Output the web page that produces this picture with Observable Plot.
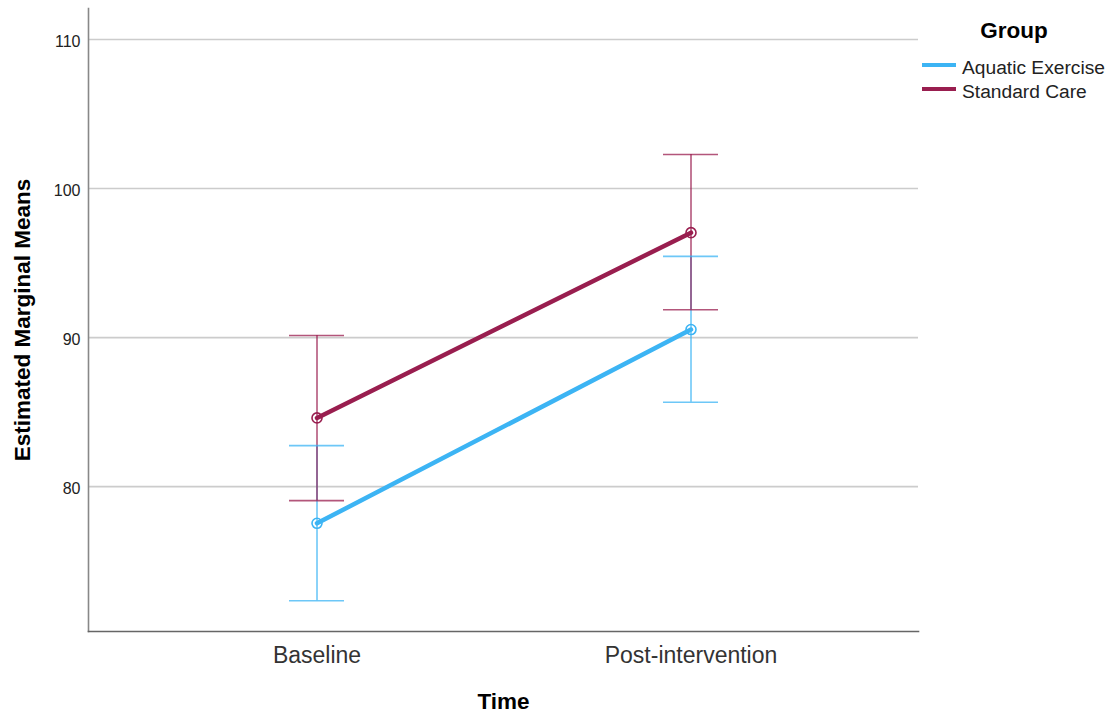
<!DOCTYPE html>
<html>
<head>
<meta charset="utf-8">
<script src="https://cdn.jsdelivr.net/npm/d3@7"></script>
<script src="https://cdn.jsdelivr.net/npm/@observablehq/plot@0.6"></script>
<style>
  body { margin: 0; background: #fff; font-family: "Liberation Sans", Arial, sans-serif; }
  #wrap { position: relative; width: 1112px; height: 715px; }
  #wrap > svg { position: absolute; left: 0; top: 0; }
</style>
</head>
<body>
<div id="wrap"></div>
<script>
const times = ["Baseline", "Post-intervention"];
const groups = ["Aquatic Exercise", "Standard Care"];
const aquaticMean = [77.54, 90.54];
const aquaticLow = [72.34, 85.66];
const aquaticHigh = [82.75, 95.45];
const standardMean = [84.61, 97.04];
const standardLow = [79.06, 91.87];
const standardHigh = [90.14, 102.28];
const yTicks = [80, 90, 100, 110];
const colors = ["#3cb4f4", "#991e4f"];
const yLabel = "Estimated Marginal Means";
const xLabel = "Time";
const legendTitle = "Group";

const means = [aquaticMean, standardMean];
const lows = [aquaticLow, standardLow];
const highs = [aquaticHigh, standardHigh];
const rows = [];
groups.forEach((g, gi) => times.forEach((t, ti) => rows.push({
  group: g, time: t, mean: means[gi][ti], low: lows[gi][ti], high: highs[gi][ti]
})));

const font = "Liberation Sans, Arial, sans-serif";

const chart = Plot.plot({
  width: 1112,
  height: 715,
  marginLeft: 88,
  marginRight: 194,
  marginTop: 8,
  marginBottom: 84,
  style: { fontFamily: font, background: "white", color: "#222" },
  x: { type: "band", domain: times, paddingInner: 0.853, paddingOuter: 0.536, label: null },
  y: { domain: [70.28, 112.08], label: null },
  color: { domain: groups, range: colors },
  marks: [
    Plot.gridY(yTicks, { stroke: "#cccccc", strokeOpacity: 1, strokeWidth: 1.6 }),
    Plot.frame({ anchor: "left", stroke: "#888", strokeWidth: 1.6 }),
    Plot.frame({ anchor: "bottom", stroke: "#666", strokeWidth: 1.6 }),
    Plot.ruleX(rows, { x: "time", y1: "low", y2: "high", stroke: "group", strokeWidth: 1.6, strokeOpacity: 0.75 }),
    Plot.tickY(rows, { x: "time", y: "low", stroke: "group", strokeWidth: 1.6, strokeOpacity: 0.75 }),
    Plot.tickY(rows, { x: "time", y: "high", stroke: "group", strokeWidth: 1.6, strokeOpacity: 0.75 }),
    Plot.line(rows, { x: "time", y: "mean", z: "group", stroke: "group", strokeWidth: 4.5 }),
    Plot.dot(rows, { x: "time", y: "mean", stroke: "group", r: 5, strokeWidth: 1.6, fill: "none" }),
    Plot.axisY(yTicks, { tickSize: 0, tickPadding: 8, fontSize: 16, label: null, dy: 2 }),
    Plot.axisX({ tickSize: 0, tickPadding: 15, fontSize: 23, label: null, fill: "#333" }),
    Plot.text([yLabel], { frameAnchor: "left", dx: -66, rotate: -90, fontSize: 22.5, fontWeight: "bold", fill: "#000", lineAnchor: "middle", textAnchor: "middle" }),
    Plot.text([xLabel], { frameAnchor: "bottom", dy: 70, fontSize: 22.5, fontWeight: "bold", fill: "#000", lineAnchor: "middle", textAnchor: "middle" })
  ]
});

const wrap = document.getElementById("wrap");
wrap.appendChild(chart);

// legend overlay
const leg = d3.create("svg")
  .attr("width", 1112).attr("height", 715)
  .style("position", "absolute").style("left", "0").style("top", "0")
  .style("pointer-events", "none")
  .style("font-family", font);
leg.append("text").attr("x", 1014).attr("y", 38).attr("text-anchor", "middle")
  .attr("font-size", 22.5).attr("font-weight", "bold").attr("fill", "#000").text(legendTitle);
const legY = [65, 89];
groups.forEach((g, i) => {
  leg.append("line").attr("x1", 922).attr("x2", 956).attr("y1", legY[i]).attr("y2", legY[i])
    .attr("stroke", colors[i]).attr("stroke-width", 4);
  leg.append("text").attr("x", 962).attr("y", legY[i] + 8.5).attr("font-size", 19.2)
    .attr("fill", "#222").text(g);
});
wrap.appendChild(leg.node());
</script>
</body>
</html>
